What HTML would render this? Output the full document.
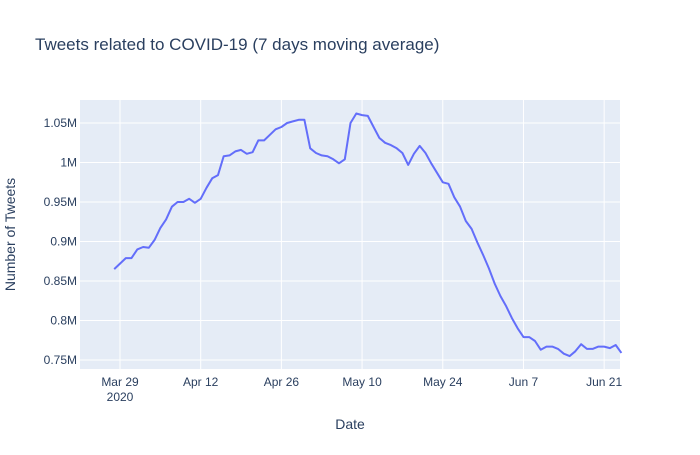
<!DOCTYPE html>
<html><head><meta charset="utf-8"><style>
body{margin:0;background:#fff;font-family:"Liberation Sans",sans-serif;}
svg text{font-family:"Liberation Sans",sans-serif;fill:#2a3f5f;}
</style></head><body>
<svg id="c" width="700" height="450" xmlns="http://www.w3.org/2000/svg">
<rect width="700" height="450" fill="#fff"/>
<text x="35" y="50" font-size="17">Tweets related to COVID-19 (7 days moving average)</text>
<rect x="80" y="100" width="540" height="269" fill="#e5ecf6"/>
<g id="grid"></g><g id="ticks"></g><g id="series"></g>
<text x="350" y="429" font-size="14" text-anchor="middle">Date</text>
<text transform="translate(15,234.5) rotate(-90)" font-size="14" text-anchor="middle">Number of Tweets</text>
</svg>
<script>
const startDate = "2020-03-28";
const tweetValues = [865,872,879,879,890,893,892,902,917,928,944,950,950,954,949,954,968,980,984,1008,1009,1014,1016,1011,1013,1028,1028,1035,1042,1045,1050,1052,1054,1054,1018,1012,1009,1008,1004,999,1004,1050,1062,1060,1059,1045,1031,1025,1022,1018,1012,997,1011,1021,1012,999,987,975,973,956,944,926,916,899,883,866,847,831,818,803,790,779,779,774,763,767,767,764,758,755,761,770,764,764,767,767,765,769,759];
const yTickValues = [750,800,850,900,950,1000,1050];
const yTickLabels = ["0.75M","0.8M","0.85M","0.9M","0.95M","1M","1.05M"];
const xTickDates = ["2020-03-29","2020-04-12","2020-04-26","2020-05-10","2020-05-24","2020-06-07","2020-06-21"];
const xTickLabels = ["Mar 29","Apr 12","Apr 26","May 10","May 24","Jun 7","Jun 21"];

const NS="http://www.w3.org/2000/svg";
const day=86400000;
const t0=Date.parse("2020-03-29");
const xd0=-6.94, xd1=86.75;
const X=d=>80+(d-xd0)/(xd1-xd0)*540;
const Y=v=>123+(1050-v)/50*39.5;
const dOf=s=>(Date.parse(s)-t0)/day;
const g=document.getElementById('grid'),tk=document.getElementById('ticks'),se=document.getElementById('series');
function mk(tag,attrs,parent){const e=document.createElementNS(NS,tag);for(const k in attrs)e.setAttribute(k,attrs[k]);parent.appendChild(e);return e;}
yTickValues.forEach((v,i)=>{
  const y=Y(v);
  const l=mk('line',{x1:80,x2:620,y1:y,y2:y,stroke:'#fff','stroke-width':1},g);
  
  
  const t=mk('text',{x:77,y:y+4,'font-size':12,'text-anchor':'end'},tk);
  t.textContent=yTickLabels[i];
  
  
});
xTickDates.forEach((s,i)=>{
  const x=X(dOf(s));
  const l=mk('line',{x1:x,x2:x,y1:100,y2:369,stroke:'#fff','stroke-width':1},g);
  
  
  const t=mk('text',{x:x,y:386,'font-size':12,'text-anchor':'middle'},tk);
  t.textContent=xTickLabels[i];
  
  
  if(i===0){const t2=mk('text',{x:x,y:401,'font-size':12,'text-anchor':'middle'},tk);t2.textContent="2020";
  
  }
});
const s0=dOf(startDate);
const pts=tweetValues.map((v,i)=>X(s0+i).toFixed(1)+','+Y(v).toFixed(1)).join(' ');
const pl=mk('polyline',{points:pts,fill:'none',stroke:'#636efa','stroke-width':2,'stroke-linejoin':'round'},se);


</script>
</body></html>
